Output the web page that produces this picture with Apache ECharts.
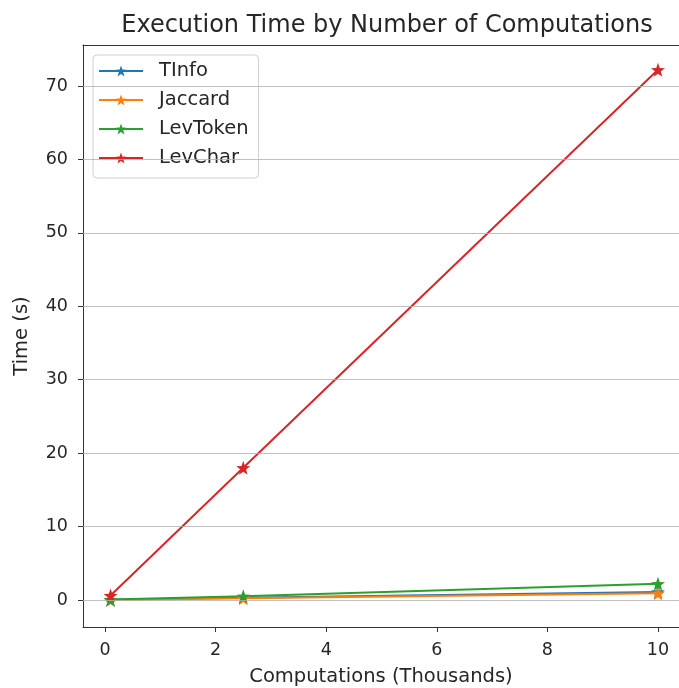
<!DOCTYPE html>
<html>
<head>
<meta charset="utf-8">
<script src="https://cdn.jsdelivr.net/npm/echarts@6/dist/echarts.min.js"></script>
<style>
  html, body { margin: 0; padding: 0; background: #fff; }
  #chart { width: 679px; height: 688px; }
</style>
</head>
<body>
<div id="chart"></div>
<script>
// Number of computations (thousands)
const computations = [0.1, 2.5, 10];

// Execution time in seconds for each similarity measure
const tinfo    = [0.02, 0.30, 1.10];
const jaccard  = [0.01, 0.25, 0.90];
const levToken = [0.05, 0.50, 2.20];
const levChar  = [0.60, 18.0, 72.2];

const seriesNames = ['TInfo', 'Jaccard', 'LevToken', 'LevChar'];
const colors = ['#1f77b4', '#ff7f0e', '#2ca02c', '#d62728'];

const xTicks = [0, 2, 4, 6, 8, 10];
const yTicks = [0, 10, 20, 30, 40, 50, 60, 70];

const star = 'path://M0,-10 L2.35,-3.24 L9.51,-3.09 L3.8,1.24 L5.88,8.09 L0,4 L-5.88,8.09 L-3.8,1.24 L-9.51,-3.09 L-2.35,-3.24 Z';

const font = 'DejaVu Sans';
const textColor = '#262626';
const spineColor = '#333';

function makeSeries(name, values, color) {
  return {
    name: name,
    type: 'line',
    xAxisIndex: 0,
    data: computations.map((c, i) => [c, values[i]]),
    symbol: star,
    symbolSize: 14,
    showSymbol: true,
    lineStyle: { color: color, width: 2 },
    itemStyle: { color: color },
    animation: false,
    z: 3
  };
}

const allSeries = [
  makeSeries(seriesNames[0], tinfo, colors[0]),
  makeSeries(seriesNames[1], jaccard, colors[1]),
  makeSeries(seriesNames[2], levToken, colors[2]),
  makeSeries(seriesNames[3], levChar, colors[3])
];

// Horizontal grid lines at each y tick
allSeries.push({
  type: 'line',
  xAxisIndex: 0,
  data: [],
  silent: true,
  animation: false,
  z: 1,
  markLine: {
    silent: true,
    symbol: 'none',
    label: { show: false },
    lineStyle: { color: '#b0b0b0', width: 1, type: 'solid', opacity: 0.8 },
    data: yTicks.map(v => ({ yAxis: v }))
  }
});

const xRange = { min: -0.398, max: 10.38 };

const chart = echarts.init(document.getElementById('chart'), null, { renderer: 'canvas' });
chart.setOption({
  backgroundColor: '#fff',
  animation: false,
  color: colors,
  title: {
    text: 'Execution Time by Number of Computations',
    left: 382, top: 9, textAlign: 'center',
    textStyle: { fontFamily: font, fontSize: 24, fontWeight: 'normal', color: textColor }
  },
  legend: {
    data: seriesNames,
    orient: 'vertical',
    left: 93, top: 55,
    itemWidth: 44, itemHeight: 14, itemGap: 9,
    padding: [6, 10, 10, 5],
    backgroundColor: 'rgba(255,255,255,0.8)',
    borderColor: '#d0d0d0', borderWidth: 1, borderRadius: 4,
    textStyle: { fontFamily: font, fontSize: 19.5, lineHeight: 20, color: textColor, padding: [0, 0, 0, 11] }
  },
  grid: { left: 83, top: 45, right: 0, bottom: 61, show: false, containLabel: false, outerBoundsMode: 'none' },
  xAxis: [{
    type: 'value',
    min: xRange.min, max: xRange.max,
    name: 'Computations (Thousands)',
    nameLocation: 'middle', nameGap: 40,
    nameTextStyle: { fontFamily: font, fontSize: 19.5, color: textColor },
    axisLine: { show: true, onZero: false, lineStyle: { color: spineColor, width: 1 } },
    axisTick: { show: true, customValues: xTicks, length: 5, lineStyle: { color: spineColor } },
    axisLabel: { customValues: xTicks, fontFamily: font, fontSize: 17.5, color: textColor, margin: 14 },
    splitLine: { show: false }
  }, {
    // top spine
    type: 'value',
    position: 'top',
    min: xRange.min, max: xRange.max,
    axisLine: { show: true, onZero: false, lineStyle: { color: spineColor, width: 1 } },
    axisTick: { show: false },
    axisLabel: { show: false },
    splitLine: { show: false }
  }],
  yAxis: {
    type: 'value',
    min: -3.68, max: 75.58,
    name: 'Time (s)',
    nameLocation: 'middle', nameGap: 51, nameRotate: 90,
    nameTextStyle: { fontFamily: font, fontSize: 19.5, color: textColor },
    axisLine: { show: true, onZero: false, lineStyle: { color: spineColor, width: 1 } },
    axisTick: { show: true, customValues: yTicks, length: 5, lineStyle: { color: spineColor } },
    axisLabel: { customValues: yTicks, fontFamily: font, fontSize: 17.5, color: textColor, margin: 15 },
    splitLine: { show: false }
  },
  series: allSeries
});
</script>
</body>
</html>
